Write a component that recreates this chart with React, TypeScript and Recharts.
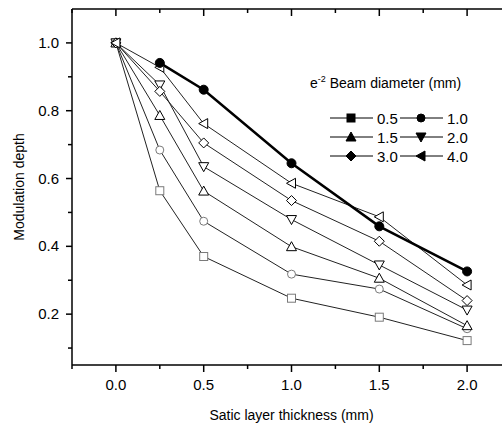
import { LineChart, Line, XAxis, YAxis, ReferenceLine } from "recharts";

// Satic layer thickness (mm)
const thickness = [0, 0.25, 0.5, 1.0, 1.5, 2.0];

// Modulation depth per e^-2 beam diameter
const d05 = [1.0, 0.564, 0.37, 0.247, 0.191, 0.122];
const d10 = [1.0, 0.684, 0.474, 0.318, 0.274, 0.157];
const d15 = [1.0, 0.786, 0.563, 0.399, 0.306, 0.166];
const d20 = [1.0, 0.876, 0.635, 0.479, 0.345, 0.212];
const d30 = [1.0, 0.857, 0.705, 0.535, 0.415, 0.24];
const d40 = [1.0, 0.928, 0.762, 0.586, 0.487, 0.286];
const bold = [null, 0.941, 0.862, 0.645, 0.459, 0.326];

const xTicks = [-0.25, 0, 0.25, 0.5, 0.75, 1.0, 1.25, 1.5, 1.75, 2.0, 2.25];
const yTicks = [0.1, 0.2, 0.3, 0.4, 0.5, 0.6, 0.7, 0.8, 0.9, 1.0];
const Y_MAX = 1.1;

const legendRows = [
  [{ shape: "square", label: "0.5" }, { shape: "circle", label: "1.0" }],
  [{ shape: "up", label: "1.5" }, { shape: "down", label: "2.0" }],
  [{ shape: "diamond", label: "3.0" }, { shape: "left", label: "4.0" }],
];

const data = thickness.map((x, i) => ({
  x,
  d05: d05[i],
  d10: d10[i],
  d15: d15[i],
  d20: d20[i],
  d30: d30[i],
  d40: d40[i],
  bold: bold[i],
}));

const FONT = "'Liberation Sans', Arial, sans-serif";

// chart layout
const W = 540;
const H = 423;
const MARGIN = { top: 9, right: 29, bottom: 0, left: 0 };
const Y_AXIS_W = 72;
const PLOT_L = MARGIN.left + Y_AXIS_W;
const PLOT_R = W - MARGIN.right;

function Marker({ shape, cx, cy, stroke, fill }: any) {
  const common = { stroke, fill, strokeWidth: 1 };
  switch (shape) {
    case "square":
      return <rect x={cx - 4} y={cy - 4} width={8} height={8} {...common} />;
    case "circle":
      return <circle cx={cx} cy={cy} r={4} {...common} />;
    case "dot":
      return <circle cx={cx} cy={cy} r={4.5} {...common} />;
    case "up":
      return <polygon points={`${cx},${cy - 5} ${cx + 5},${cy + 4} ${cx - 5},${cy + 4}`} {...common} />;
    case "down":
      return <polygon points={`${cx},${cy + 5} ${cx + 5},${cy - 4} ${cx - 5},${cy - 4}`} {...common} />;
    case "diamond":
      return <polygon points={`${cx},${cy - 5} ${cx + 5},${cy} ${cx},${cy + 5} ${cx - 5},${cy}`} {...common} />;
    case "left":
      return <polygon points={`${cx - 5},${cy} ${cx + 4},${cy - 5} ${cx + 4},${cy + 5}`} {...common} />;
    default:
      return null;
  }
}

const dot = (shape: string, stroke: string, fill = "#fff") => (props: any) => {
  const { cx, cy, index, value } = props;
  if (cx == null || cy == null || value == null) return <g key={index} />;
  return <Marker key={index} shape={shape} cx={cx} cy={cy} stroke={stroke} fill={fill} />;
};

const isMajorX = (v: number) => Math.abs(v * 2 - Math.round(v * 2)) < 1e-6;
const isMajorY = (v: number) => Math.round(v * 10) % 2 === 0;

function BottomTick({ x, y, payload }: any) {
  const major = isMajorX(payload.value);
  return (
    <g>
      <line x1={x} x2={x} y1={y} y2={y + (major ? 7 : 4)} stroke="#000" strokeWidth={1.5} />
      {major && payload.value >= 0 && payload.value <= 2 && (
        <text x={x} y={y + 25} textAnchor="middle" fontSize={15} fontFamily={FONT} fill="#000">
          {payload.value.toFixed(1)}
        </text>
      )}
    </g>
  );
}

function LeftTick({ x, y, payload }: any) {
  const major = isMajorY(payload.value);
  return (
    <g>
      <line x1={x} x2={x - (major ? 6 : 4)} y1={y} y2={y} stroke="#000" strokeWidth={1.5} />
      {major && (
        <text x={x - 13} y={y + 5} textAnchor="end" fontSize={15} fontFamily={FONT} fill="#000">
          {payload.value.toFixed(1)}
        </text>
      )}
    </g>
  );
}

function LegendBox({ x, y }: { x: number; y: number }) {
  return (
    <g transform={`translate(${x},${y})`}>
      <text x={10} y={23} fontSize={14} fontFamily={FONT} fill="#000">
        e<tspan dy={-6} fontSize={9}>-2</tspan>
        <tspan dy={6}> Beam diameter (mm)</tspan>
      </text>
      {legendRows.map((row, r) =>
        row.map((item, c) => {
          const cy = 53 + r * 19;
          const x0 = c === 0 ? 30 : 100;
          return (
            <g key={`${r}-${c}`}>
              <line x1={x0} x2={x0 + 43} y1={cy} y2={cy} stroke="#000" strokeWidth={1} />
              <Marker shape={item.shape} cx={x0 + 21} cy={cy} stroke="#000" fill="#000" />
              <text x={x0 + 47} y={cy + 5.5} fontSize={15} fontFamily={FONT} fill="#000">
                {item.label}
              </text>
            </g>
          );
        })
      )}
    </g>
  );
}

// top frame line with inward ticks, plus the legend block, hung from the top of the y range
function TopFrame(props: any) {
  const top = Number.isFinite(Number(props.y1)) ? Number(props.y1) : MARGIN.top;
  const lo = xTicks[0];
  const hi = xTicks[xTicks.length - 1];
  const span = PLOT_R - PLOT_L;
  return (
    <g>
      <path d={`M${PLOT_L},${top}H${PLOT_R}`} stroke="#000" strokeWidth={1.5} fill="none" />
      {xTicks.map((t) => {
        const tx = PLOT_L + ((t - lo) / (hi - lo)) * span;
        return (
          <path key={t} d={`M${tx},${top}V${top + (isMajorX(t) ? 7 : 4)}`} stroke="#000" strokeWidth={1.5} fill="none" />
        );
      })}
      <LegendBox x={300} y={top + 56} />
    </g>
  );
}

export default function App() {
  return (
    <div
      style={{
        position: "fixed",
        left: 0,
        top: 0,
        width: 502,
        height: 423,
        overflow: "hidden",
        background: "#fff",
      }}
    >
      <LineChart width={W} height={H} data={data} margin={MARGIN}>
        <XAxis
          dataKey="x"
          type="number"
          domain={[xTicks[0], xTicks[xTicks.length - 1]]}
          ticks={xTicks}
          interval={0}
          height={58}
          tickSize={0}
          tickMargin={0}
          tickLine={false}
          tick={<BottomTick />}
          axisLine={{ stroke: "#000", strokeWidth: 1.5 }}
          allowDataOverflow
          label={{
            value: "Satic layer thickness (mm)",
            position: "insideBottom",
            offset: 3,
            fontSize: 14,
            fontFamily: FONT,
            fill: "#000",
          }}
        />
        <YAxis
          type="number"
          domain={[0.05, Y_MAX]}
          ticks={yTicks}
          interval={0}
          width={Y_AXIS_W}
          tickSize={0}
          tickMargin={0}
          tickLine={false}
          tick={<LeftTick />}
          axisLine={{ stroke: "#000", strokeWidth: 1.5 }}
          allowDataOverflow
          label={{
            value: "Modulation depth",
            angle: -90,
            position: "insideLeft",
            offset: 19,
            fontSize: 14,
            fontFamily: FONT,
            fill: "#000",
            style: { textAnchor: "middle" },
          }}
        />
        <ReferenceLine y={Y_MAX} ifOverflow="visible" shape={(p: any) => <TopFrame {...p} />} />
        <Line dataKey="d05" stroke="#222" strokeWidth={1} dot={dot("square", "#7a7a7a")} isAnimationActive={false} legendType="none" />
        <Line dataKey="d10" stroke="#222" strokeWidth={1} dot={dot("circle", "#7a7a7a")} isAnimationActive={false} legendType="none" />
        <Line dataKey="d15" stroke="#222" strokeWidth={1} dot={dot("up", "#000")} isAnimationActive={false} legendType="none" />
        <Line dataKey="d20" stroke="#222" strokeWidth={1} dot={dot("down", "#000")} isAnimationActive={false} legendType="none" />
        <Line dataKey="d30" stroke="#222" strokeWidth={1} dot={dot("diamond", "#000")} isAnimationActive={false} legendType="none" />
        <Line dataKey="d40" stroke="#222" strokeWidth={1} dot={dot("left", "#000")} isAnimationActive={false} legendType="none" />
        <Line dataKey="bold" stroke="#000" strokeWidth={2.5} dot={dot("dot", "#000", "#000")} isAnimationActive={false} legendType="none" />
      </LineChart>
    </div>
  );
}
